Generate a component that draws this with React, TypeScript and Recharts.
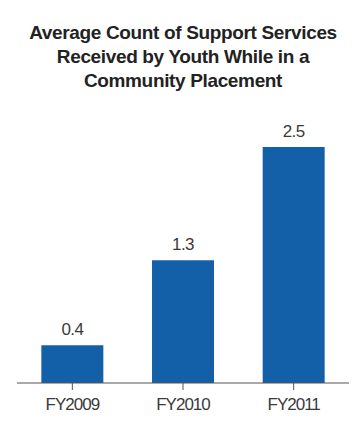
import React from 'react';
import { BarChart, Bar, XAxis, YAxis, LabelList } from 'recharts';

const categories = ['FY2009', 'FY2010', 'FY2011'];
const values = [0.4, 1.3, 2.5];
const titleLines = [
  'Average Count of Support Services',
  'Received by Youth While in a',
  'Community Placement',
];

const data = categories.map((c, i) => ({ name: c, value: values[i] }));

const FONT = '"Liberation Sans", Arial, sans-serif';

export default function App() {
  return (
    <div style={{ position: 'absolute', left: 0, top: 0, width: 352, height: 423, background: '#fff' }}>
      <div
        style={{
          position: 'absolute',
          left: 17,
          width: 332,
          top: 21,
          textAlign: 'center',
          fontFamily: FONT,
          fontWeight: 'bold',
          fontSize: 19,
          lineHeight: '24px',
          letterSpacing: '-0.35px',
          color: '#222',
        }}
      >
        {titleLines.map((l, i) => (
          <div key={i}>{l}</div>
        ))}
      </div>
      <BarChart
        width={352}
        height={423}
        data={data}
        margin={{ top: 147, right: 3, bottom: 0, left: 17 }}
        barCategoryGap="22%"
      >
        <YAxis hide domain={[0, 2.5]} />
        <XAxis
          dataKey="name"
          height={40}
          axisLine={{ stroke: '#555', strokeWidth: 1 }}
          tickLine={{ stroke: '#555', strokeWidth: 1 }}
          tickSize={7}
          tickMargin={8}
          interval={0}
          tick={{ fill: '#3a3a3a', fontFamily: FONT, fontSize: 17, style: { letterSpacing: '-1px' } }}
        />
        <Bar dataKey="value" fill="#1460a8" isAnimationActive={false}>
          <LabelList
            dataKey="value"
            position="top"
            offset={10}
            style={{ fill: '#3a3a3a', fontFamily: FONT, fontSize: 17, letterSpacing: '-0.6px' }}
          />
        </Bar>
      </BarChart>
    </div>
  );
}
